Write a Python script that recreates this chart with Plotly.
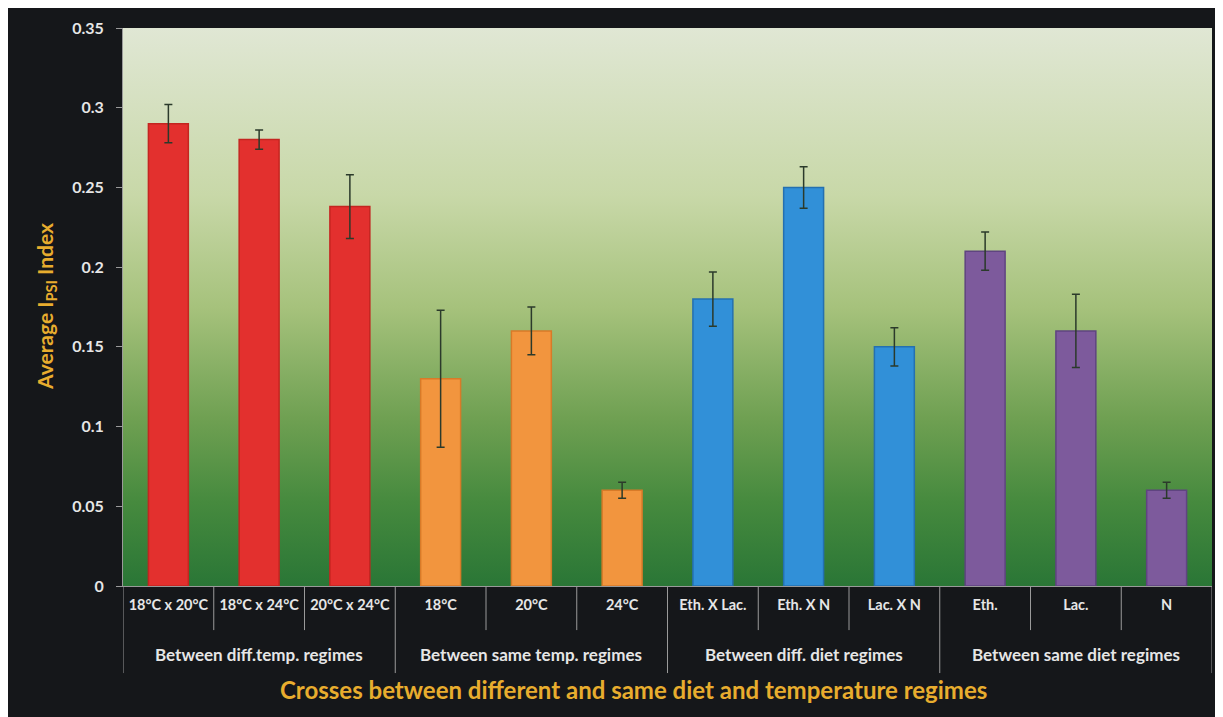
import base64
import plotly.graph_objects as go

# values
labels = ["18°C x 20°C", "18°C x 24°C", "20°C x 24°C", "18°C", "20°C", "24°C",
          "Eth. X Lac.", "Eth. X N", "Lac. X N", "Eth.", "Lac.", "N"]
means = [0.29, 0.28, 0.238, 0.13, 0.16, 0.06, 0.18, 0.25, 0.15, 0.21, 0.16, 0.06]
errors = [0.012, 0.006, 0.02, 0.043, 0.015, 0.005, 0.017, 0.013, 0.012, 0.012, 0.023, 0.005]
group_names = ["Between diff.temp. regimes", "Between same temp. regimes",
               "Between diff. diet regimes", "Between same diet regimes"]
group_sizes = [3, 3, 3, 3]
colors = ["#e3302e"] * 3 + ["#f2953e"] * 3 + ["#3190d8"] * 3 + ["#7d5a9c"] * 3
edges = ["#c42520"] * 3 + ["#d87a28"] * 3 + ["#2470b0"] * 3 + ["#5f4480"] * 3

# vertical green gradient for the plot area background
svg = """<svg xmlns='http://www.w3.org/2000/svg' width='100' height='100' preserveAspectRatio='none'>
<defs><linearGradient id='g' x1='0' y1='0' x2='0' y2='1'>
<stop offset='0' stop-color='#e0e7d4'/>
<stop offset='0.3' stop-color='#c8d8a8'/>
<stop offset='0.5' stop-color='#a6c27c'/>
<stop offset='0.7' stop-color='#6fa052'/>
<stop offset='0.85' stop-color='#468a3e'/>
<stop offset='1' stop-color='#2a7636'/>
</linearGradient></defs>
<rect width='100' height='100' fill='url(#g)'/></svg>"""
bg_src = "data:image/svg+xml;base64," + base64.b64encode(svg.encode()).decode()

fig = go.Figure(go.Bar(
    x=labels, y=means,
    marker=dict(color=colors, line=dict(color=edges, width=1.5)),
    error_y=dict(type="data", array=errors, color="#2b3a2b", thickness=1.5, width=4),
    width=0.44,
))

font_family = "Lato, 'Open Sans', sans-serif"
line_grey = "#9a9a9a"

# divider lines under the axis: short ones between bars, long ones between groups
shapes = []
annotations = []
start = 0
group_edges = {-0.5}
for name, size in zip(group_names, group_sizes):
    group_edges.add(start + size - 0.5)
    annotations.append(dict(text=name, x=start + (size - 1) / 2, xref="x", yref="paper",
                            y=-0.123, yanchor="middle", showarrow=False,
                            font=dict(size=17, color="#e6e6e6", weight="bold")))
    start += size
for k in range(len(labels) + 1):
    pos = k - 0.5
    depth = -0.156 if pos in group_edges else -0.079
    shapes.append(dict(type="line", xref="x", yref="paper", x0=pos, x1=pos, y0=0, y1=depth,
                       line=dict(color=line_grey, width=1)))

annotations += [
    dict(text="Crosses between different and same diet and temperature regimes",
         xref="paper", yref="paper", x=0.469, y=-0.186, yanchor="middle",
         showarrow=False, font=dict(size=24, color="#e8ad2e", weight="bold")),
    dict(text="Average I<sub>PSI</sub> Index", textangle=-90,
         xref="paper", yref="paper", x=-0.0707, y=0.5, xanchor="center", yanchor="middle",
         showarrow=False, font=dict(size=21, color="#e8ad2e", weight="bold")),
]

fig.update_layout(
    width=1215, height=709,
    margin=dict(l=115, r=11, t=20, b=131),
    paper_bgcolor="#15171a",
    plot_bgcolor="rgba(0,0,0,0)",
    showlegend=False,
    font=dict(family=font_family, color="#e6e6e6"),
    images=[dict(source=bg_src, xref="paper", yref="paper", x=0, y=1,
                 sizex=1, sizey=1, sizing="stretch", layer="below")],
    xaxis=dict(
        range=[-0.5, 11.5],
        tickfont=dict(size=14.5, color="#e6e6e6", weight="bold"),
        ticks="", ticklabelstandoff=6,
        showline=True, linecolor=line_grey, linewidth=1,
        showgrid=False,
    ),
    yaxis=dict(
        range=[0, 0.35], dtick=0.05,
        tickfont=dict(size=16, color="#e6e6e6", weight="bold"),
        ticks="outside", ticklen=6, tickcolor=line_grey, ticklabelstandoff=9,
        showline=True, linecolor=line_grey, linewidth=1,
        showgrid=False, zeroline=False,
    ),
    shapes=shapes,
    annotations=annotations,
)

fig.write_html("out.html")
